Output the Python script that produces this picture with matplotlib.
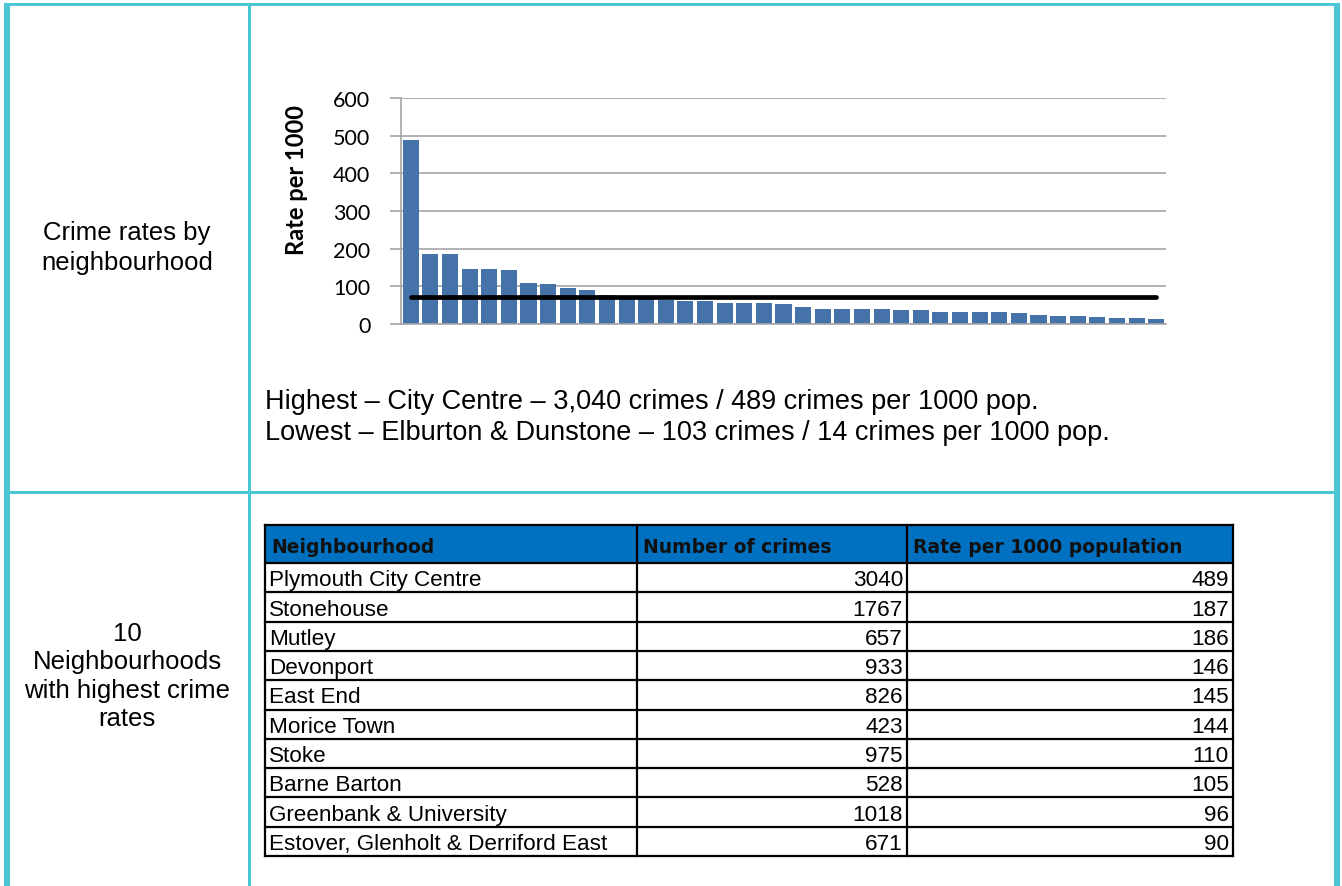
import matplotlib.pyplot as plt
from matplotlib.patches import Rectangle

# Crime rate per 1000 population for every neighbourhood, highest first
rates = [489, 187, 186, 146, 145, 144, 110, 105, 96, 90,
         76, 73, 70, 64, 60, 60, 56, 56, 56, 52,
         46, 40, 40, 40, 40, 36, 36, 32, 32, 32,
         32, 28, 25, 22, 22, 18, 15, 15, 14]
city_average = 73
y_ticks = [0, 100, 200, 300, 400, 500, 600]

# Ten neighbourhoods with the highest rates
top_names = ['Plymouth City Centre', 'Stonehouse', 'Mutley', 'Devonport', 'East End',
             'Morice Town', 'Stoke', 'Barne Barton', 'Greenbank & University',
             'Estover, Glenholt & Derriford East']
top_crimes = [3040, 1767, 657, 933, 826, 423, 975, 528, 1018, 671]
top_rates = [489, 187, 186, 146, 145, 144, 110, 105, 96, 90]
table_headers = ['Neighbourhood', 'Number of crimes', 'Rate per 1000 population']

W, H = 1342, 887
cyan = '#4BC6D3'
bar_blue = '#4672AA'
grid_grey = '#A6A6A6'

fig = plt.figure(figsize=(W / 100, H / 100), dpi=100)

# full-page layer in pixel coordinates for the frame, text and table
bg = fig.add_axes([0, 0, 1, 1])
bg.set_xlim(0, W)
bg.set_ylim(H, 0)
bg.axis('off')

def box(x0, y0, x1, y1, color, z=1):
    bg.add_patch(Rectangle((x0, y0), x1 - x0, y1 - y0, color=color, lw=0, zorder=z))

# outer frame and cell dividers
box(4, 4, 1340, 7, cyan)
box(4, 4, 10, H, cyan)
box(1334, 4, 1340, H, cyan)
box(248, 4, 251, H, cyan)
box(4, 492, 1340, 495, cyan)

body_font = ['Liberation Sans', 'DejaVu Sans']

bg.text(127, 240, 'Crime rates by', ha='center', va='baseline', fontsize=18.5, family=body_font)
bg.text(127, 270, 'neighbourhood', ha='center', va='baseline', fontsize=18.5, family=body_font)

left_lines = ['10', 'Neighbourhoods', 'with highest crime', 'rates']
for i, s in enumerate(left_lines):
    bg.text(127, 641 + i * 28.5, s, ha='center', va='baseline', fontsize=18.5, family=body_font)

bg.text(265, 409, 'Highest \u2013 City Centre \u2013 3,040 crimes / 489 crimes per 1000 pop.',
        ha='left', va='baseline', fontsize=19.5, family=body_font)
bg.text(265, 440, 'Lowest \u2013 Elburton & Dunstone \u2013 103 crimes / 14 crimes per 1000 pop.',
        ha='left', va='baseline', fontsize=19.5, family=body_font)

# y-axis title of the bar chart
bg.text(296, 180, 'Rate per 1000', rotation=90, ha='center', va='center',
        fontsize=17, fontweight='bold', family=['Lato', 'DejaVu Sans'])

# bar chart
ax = fig.add_axes([401 / W, 1 - 325 / H, 765 / W, 226 / H])
x = list(range(len(rates)))
ax.bar(x, rates, width=0.82, color=bar_blue, zorder=2)
ax.plot([x[0], x[-1]], [city_average, city_average], color='black', lw=3.4,
        solid_capstyle='round', zorder=3)
ax.set_xlim(-0.5, len(rates) - 0.5)
ax.set_ylim(0, 600)
ax.set_yticks(y_ticks)
ax.set_xticks([])
ax.yaxis.grid(True, color=grid_grey, lw=1.2, zorder=0)
ax.set_axisbelow(True)
ax.patch.set_alpha(0)
for side in ['top', 'right']:
    ax.spines[side].set_visible(False)
ax.spines['left'].set_color(grid_grey)
ax.spines['bottom'].set_color(grid_grey)
ax.spines['left'].set_linewidth(1.2)
ax.spines['bottom'].set_linewidth(1.2)
ax.tick_params(axis='y', length=8, width=1.2, color=grid_grey, pad=14, labelsize=15.5)
for lab in ax.get_yticklabels():
    lab.set_family(['Lato', 'DejaVu Sans'])

# table of the ten highest neighbourhoods
col_x = [265, 637, 907, 1233]
head_top, head_bot = 526, 564
row_h = 29.3
n = len(top_names)
box(col_x[0], head_top, col_x[-1], head_bot, '#0070C0')

for i, h in enumerate(table_headers):
    bg.text(col_x[i] + 6, 553, h, ha='left', va='baseline', fontsize=13.5,
            fontweight='bold', family=['DejaVu Sans'], color='#111111', zorder=3)

for r in range(n):
    bottom = head_bot + (r + 1) * row_h
    base = bottom - 7
    bg.text(col_x[0] + 4, base, top_names[r], ha='left', va='baseline',
            fontsize=16.2, family=body_font, zorder=3)
    bg.text(col_x[2] - 4, base, str(top_crimes[r]), ha='right', va='baseline',
            fontsize=16.2, family=body_font, zorder=3)
    bg.text(col_x[3] - 4, base, str(top_rates[r]), ha='right', va='baseline',
            fontsize=16.2, family=body_font, zorder=3)

table_bottom = head_bot + n * row_h
for r in range(n + 2):
    yy = head_top if r == 0 else head_bot + (r - 1) * row_h
    bg.plot([col_x[0], col_x[-1]], [yy, yy], color='black', lw=1.6, zorder=4,
            solid_capstyle='projecting')
for cx in col_x:
    bg.plot([cx, cx], [head_top, table_bottom], color='black', lw=1.6, zorder=4,
            solid_capstyle='projecting')

fig.savefig('out.png', dpi=100)
